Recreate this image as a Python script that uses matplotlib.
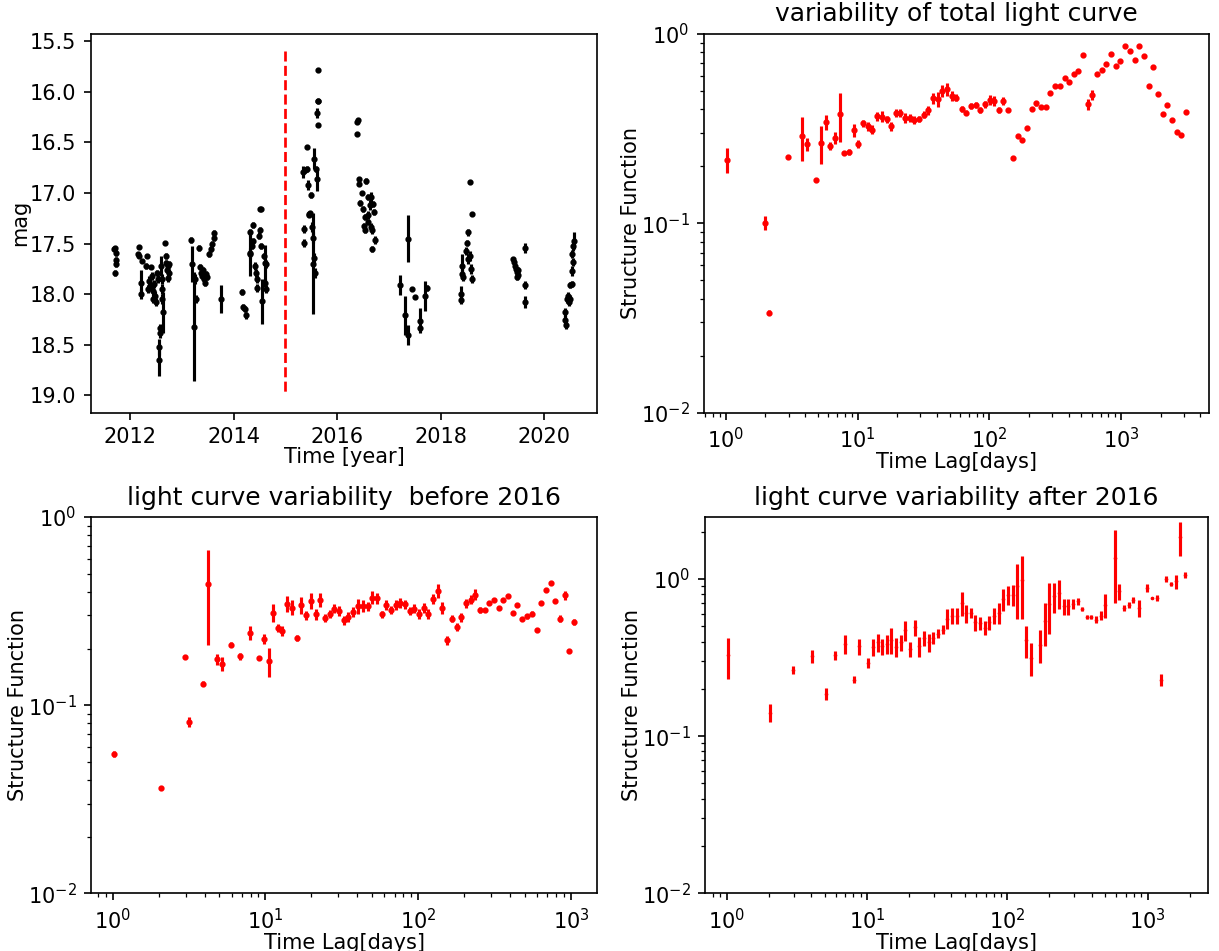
import numpy as np
import matplotlib
matplotlib.use("Agg")
import matplotlib.pyplot as plt

# ---------------- light curve (mag vs. time) ----------------
lc_year = [
    2011.69, 2011.71, 2011.73, 2011.72, 2011.73, 2011.71,
    2012.16, 2012.18, 2012.18, 2012.23, 2012.21, 2012.21, 2012.31, 2012.33, 2012.35, 2012.37,
    2012.39, 2012.41, 2012.42, 2012.44, 2012.45, 2012.47, 2012.48, 2012.50, 2012.52, 2012.54,
    2012.55, 2012.56, 2012.57, 2012.58, 2012.60, 2012.61, 2012.62, 2012.62, 2012.63, 2012.68,
    2012.69, 2012.70, 2012.72, 2012.74, 2012.75, 2012.73, 2012.76,
    2013.18, 2013.19, 2013.24, 2013.26, 2013.27, 2013.33, 2013.35, 2013.37, 2013.39, 2013.41,
    2013.43, 2013.45, 2013.47, 2013.49, 2013.53, 2013.56, 2013.59, 2013.62, 2013.63, 2013.75,
    2014.16, 2014.18, 2014.21, 2014.23, 2014.31, 2014.32, 2014.31, 2014.35, 2014.37, 2014.38,
    2014.41, 2014.43, 2014.45, 2014.45, 2014.48, 2014.50, 2014.52, 2014.51, 2014.53, 2014.55,
    2014.58, 2014.60, 2014.61, 2014.62, 2014.63,
    2015.33, 2015.35, 2015.36, 2015.38, 2015.41, 2015.42, 2015.44, 2015.45, 2015.46, 2015.48,
    2015.50, 2015.52, 2015.53, 2015.54, 2015.55, 2015.56, 2015.57, 2015.58, 2015.60, 2015.61,
    2015.62, 2015.62, 2015.63, 2015.63,
    2016.39, 2016.40, 2016.39, 2016.42, 2016.42, 2016.56, 2016.47, 2016.44, 2016.50, 2016.60,
    2016.65, 2016.63, 2016.69, 2016.70, 2016.53, 2016.59, 2016.60, 2016.52, 2016.53, 2016.66,
    2016.68, 2016.72, 2016.68,
    2017.21, 2017.36, 2017.31, 2017.37, 2017.44, 2017.51, 2017.60, 2017.60, 2017.69, 2017.73,
    2018.38, 2018.39, 2018.40, 2018.41, 2018.42, 2018.50, 2018.49, 2018.53, 2018.53, 2018.57,
    2018.58, 2018.60, 2018.56, 2018.61,
    2019.40, 2019.42, 2019.44, 2019.45, 2019.47, 2019.49, 2019.46, 2019.48, 2019.62, 2019.62,
    2019.62,
    2020.39, 2020.40, 2020.42, 2020.43, 2020.45, 2020.47, 2020.49, 2020.50, 2020.53, 2020.53,
    2020.55, 2020.57, 2020.56, 2020.54,
]
lc_mag = [
    17.55, 17.54, 17.59, 17.66, 17.70, 17.79,
    17.60, 17.53, 17.62, 17.67, 17.89, 18.00, 17.72, 17.62, 17.95, 17.87,
    17.92, 17.73, 17.82, 17.97, 18.05, 17.90, 18.02, 18.08, 17.79, 17.85,
    18.52, 18.65, 18.33, 18.38, 17.72, 17.85, 17.95, 18.05, 18.18, 17.49,
    17.62, 17.69, 17.76, 17.72, 17.79, 17.84, 17.70,
    17.46, 17.70, 18.32, 17.85, 18.05, 17.54, 17.73, 17.79, 17.82, 17.76,
    17.85, 17.89, 17.80, 17.83, 17.60, 17.55, 17.50, 17.44, 17.40, 18.05,
    17.98, 18.13, 18.15, 18.21, 17.39, 17.59, 17.60, 17.52, 17.32, 17.47,
    17.72, 17.79, 17.85, 17.94, 17.42, 17.16, 17.16, 17.37, 17.52, 18.07,
    17.62, 17.69, 17.89, 17.95, 17.70,
    16.79, 17.36, 17.49, 16.77, 16.76, 16.55, 16.92, 17.21, 17.22, 17.20,
    17.02, 17.34, 17.70, 17.44, 16.66, 17.64, 17.79, 16.76, 16.86, 16.21,
    15.79, 16.09, 16.09, 16.33,
    16.30, 16.28, 16.42, 16.86, 16.91, 16.88, 17.00, 17.10, 17.16, 17.04,
    17.04, 17.12, 17.11, 17.19, 17.24, 17.22, 17.29, 17.33, 17.37, 17.34,
    17.37, 17.46, 17.55,
    17.91, 17.45, 18.21, 18.40, 17.95, 18.03, 18.26, 18.33, 18.02, 17.94,
    18.00, 18.06, 17.72, 17.80, 17.83, 17.49, 17.57, 17.39, 17.65, 17.62,
    17.75, 17.85, 16.89, 17.21,
    17.65, 17.68, 17.72, 17.75, 17.78, 17.81, 17.83, 17.76, 17.54, 17.91,
    18.08,
    18.18, 18.25, 18.30, 18.05, 18.02, 18.08, 18.05, 17.91, 17.90, 17.77,
    17.68, 17.47, 17.52, 17.60,
]
lc_err = [
    0.02, 0.02, 0.03, 0.03, 0.03, 0.03,
    0.02, 0.02, 0.02, 0.02, 0.13, 0.05, 0.03, 0.02, 0.04, 0.05,
    0.04, 0.02, 0.04, 0.05, 0.04, 0.04, 0.05, 0.04, 0.03, 0.04,
    0.08, 0.16, 0.04, 0.05, 0.10, 0.05, 0.05, 0.05, 0.20, 0.02,
    0.03, 0.03, 0.03, 0.03, 0.04, 0.04, 0.03,
    0.03, 0.18, 0.54, 0.05, 0.04, 0.03, 0.03, 0.03, 0.03, 0.03,
    0.04, 0.03, 0.03, 0.03, 0.03, 0.03, 0.03, 0.03, 0.03, 0.14,
    0.03, 0.03, 0.03, 0.03, 0.03, 0.05, 0.22, 0.03, 0.03, 0.03,
    0.04, 0.04, 0.04, 0.04, 0.03, 0.02, 0.02, 0.03, 0.03, 0.22,
    0.03, 0.18, 0.04, 0.04, 0.04,
    0.06, 0.04, 0.04, 0.03, 0.03, 0.02, 0.05, 0.02, 0.02, 0.02,
    0.03, 0.05, 0.50, 0.05, 0.10, 0.05, 0.05, 0.03, 0.12, 0.05,
    0.02, 0.02, 0.02, 0.02,
    0.02, 0.02, 0.02, 0.02, 0.02, 0.03, 0.02, 0.03, 0.03, 0.03,
    0.05, 0.05, 0.03, 0.03, 0.03, 0.04, 0.03, 0.03, 0.03, 0.04,
    0.04, 0.04, 0.03,
    0.10, 0.23, 0.19, 0.10, 0.02, 0.02, 0.12, 0.03, 0.15, 0.03,
    0.08, 0.04, 0.12, 0.05, 0.04, 0.03, 0.04, 0.03, 0.05, 0.05,
    0.05, 0.04, 0.02, 0.02,
    0.02, 0.02, 0.02, 0.03, 0.03, 0.03, 0.03, 0.03, 0.05, 0.04,
    0.06,
    0.04, 0.04, 0.04, 0.04, 0.04, 0.04, 0.04, 0.03, 0.03, 0.05,
    0.04, 0.08, 0.05, 0.04,
]
split_year = 2015.0
split_mag_range = (15.6, 19.0)

# ---------------- structure function: whole light curve ----------------
sf_all_lag = [
    1.02, 1.97, 2.13, 2.96, 3.8, 4.1, 4.85, 5.27, 5.71, 6.2, 6.73, 7.3, 7.91, 8.59, 9.32,
    10.1, 10.96, 11.9, 12.9, 14.0, 15.2, 16.6, 17.9, 19.5, 21.1, 22.9, 24.9, 27.0, 29.3,
    31.8, 34.5, 37.4, 40.6, 44.0, 47.8, 51.8, 56.3, 61.5, 66.8, 72.4, 78.7, 85.3, 92.6,
    100.5, 109, 118, 128, 139, 151, 164, 178, 193, 210, 228, 247, 268, 291, 316, 342,
    372, 403, 437, 474, 515, 558, 606, 658, 713, 774, 840, 912, 989, 1072, 1164, 1267,
    1374, 1492, 1619, 1757, 1905, 2070, 2245, 2437, 2642, 2870, 3112,
]
sf_all_val = [
    0.217, 0.101, 0.0338, 0.223, 0.289, 0.261, 0.169, 0.266, 0.343, 0.256, 0.283, 0.38,
    0.236, 0.239, 0.31, 0.263, 0.337, 0.326, 0.313, 0.369, 0.366, 0.354, 0.326, 0.384,
    0.384, 0.361, 0.361, 0.351, 0.357, 0.375, 0.395, 0.457, 0.452, 0.5, 0.51, 0.471,
    0.461, 0.403, 0.384, 0.417, 0.42, 0.397, 0.425, 0.449, 0.443, 0.397, 0.443, 0.396,
    0.222, 0.29, 0.277, 0.317, 0.403, 0.431, 0.41, 0.41, 0.49, 0.532, 0.532, 0.589,
    0.558, 0.618, 0.637, 0.774, 0.425, 0.477, 0.618, 0.647, 0.693, 0.783, 0.674, 0.722,
    0.867, 0.817, 0.725, 0.867, 0.762, 0.532, 0.672, 0.481, 0.376, 0.42, 0.351, 0.303,
    0.294, 0.388,
]
sf_all_err = [
    0.033, 0.009, 0.001, 0.005, 0.075, 0.02, 0.002, 0.06, 0.03, 0.012, 0.02, 0.11,
    0.005, 0.008, 0.025, 0.012, 0.015, 0.018, 0.018, 0.02, 0.025, 0.015, 0.018, 0.02,
    0.02, 0.022, 0.018, 0.018, 0.012, 0.015, 0.02, 0.03, 0.04, 0.035, 0.04, 0.03,
    0.02, 0.015, 0.012, 0.015, 0.015, 0.015, 0.02, 0.025, 0.025, 0.015, 0.02, 0.004,
    0.003, 0.004, 0.004, 0.004, 0.008, 0.012, 0.006, 0.006, 0.005, 0.006, 0.006, 0.005,
    0.005, 0.006, 0.006, 0.006, 0.03, 0.03, 0.005, 0.005, 0.006, 0.006, 0.008, 0.01,
    0.006, 0.006, 0.006, 0.006, 0.006, 0.005, 0.015, 0.005, 0.004, 0.005, 0.004, 0.004,
    0.004, 0.005,
]

# ---------------- structure function: before 2016 ----------------
sf_pre_lag = [
    1.02, 2.06, 2.96, 3.16, 3.9, 4.19, 4.82, 5.17, 5.96, 6.86, 7.89, 9.08, 9.75, 10.5,
    11.2, 12.0, 12.9, 13.9, 15.0, 16.0, 17.2, 18.5, 19.8, 21.3, 22.8, 24.5, 26.3, 28.2,
    30.3, 32.5, 34.8, 37.6, 40.4, 43.3, 46.6, 50.0, 53.7, 57.6, 61.8, 66.3, 71.2, 76.4,
    81.9, 87.9, 94.3, 101, 109, 116, 125, 134, 144, 155, 166, 178, 191, 205, 220, 236,
    253, 272, 292, 314, 337, 361, 388, 416, 446, 479, 514, 552, 594, 638, 684, 734, 787,
    845, 907, 973, 1045,
]
sf_pre_val = [
    0.0553, 0.0364, 0.181, 0.0817, 0.13, 0.439, 0.175, 0.166, 0.21, 0.182, 0.243, 0.178,
    0.225, 0.171, 0.31, 0.258, 0.248, 0.346, 0.33, 0.228, 0.34, 0.3, 0.358, 0.305, 0.364,
    0.29, 0.305, 0.326, 0.316, 0.283, 0.295, 0.313, 0.335, 0.336, 0.335, 0.373, 0.369,
    0.304, 0.34, 0.322, 0.34, 0.349, 0.343, 0.316, 0.326, 0.306, 0.33, 0.305, 0.368,
    0.405, 0.33, 0.221, 0.288, 0.26, 0.293, 0.347, 0.364, 0.387, 0.322, 0.32, 0.347,
    0.361, 0.328, 0.361, 0.382, 0.309, 0.34, 0.288, 0.296, 0.306, 0.252, 0.347, 0.408,
    0.446, 0.358, 0.288, 0.384, 0.195, 0.276,
]
sf_pre_err = [
    0.002, 0.0005, 0.004, 0.005, 0.004, 0.23, 0.012, 0.014, 0.006, 0.008, 0.02, 0.005,
    0.014, 0.03, 0.035, 0.012, 0.014, 0.035, 0.03, 0.008, 0.035, 0.018, 0.035, 0.02,
    0.03, 0.014, 0.016, 0.018, 0.02, 0.016, 0.018, 0.02, 0.03, 0.025, 0.02, 0.03, 0.025,
    0.014, 0.02, 0.016, 0.02, 0.02, 0.018, 0.016, 0.018, 0.02, 0.02, 0.018, 0.022, 0.035,
    0.025, 0.012, 0.012, 0.012, 0.015, 0.02, 0.02, 0.025, 0.012, 0.008, 0.006, 0.007,
    0.006, 0.007, 0.007, 0.006, 0.007, 0.006, 0.008, 0.01, 0.005, 0.006, 0.006, 0.006,
    0.006, 0.012, 0.02, 0.004, 0.01,
]

# ---------------- structure function: after 2016 ----------------
sf_post_lag = [
    1.02, 2.04, 2.99, 4.07, 5.12, 5.96, 6.95, 8.13, 8.73, 10.2, 11.0, 11.9, 12.8, 13.8,
    14.9, 16.1, 17.4, 18.8, 20.3, 21.9, 23.6, 25.5, 27.5, 29.7, 32.0, 34.6, 37.3, 40.4,
    43.6, 47.2, 50.9, 55.0, 59.3, 64.0, 69.0, 74.5, 80.4, 86.7, 93.6, 101, 109, 117.6,
    127, 137, 148, 172, 186, 200, 216, 233, 252, 272, 294, 317, 342, 369, 398, 430, 464,
    501, 583, 630, 680, 733, 791, 863, 994, 1073, 1159, 1251, 1349, 1463, 1588, 1714, 1853,
]
sf_post_val = [
    0.327, 0.141, 0.265, 0.322, 0.186, 0.327, 0.386, 0.229, 0.373, 0.292, 0.37, 0.395,
    0.373, 0.386, 0.411, 0.37, 0.395, 0.471, 0.359, 0.492, 0.373, 0.422, 0.395, 0.422,
    0.449, 0.476, 0.56, 0.585, 0.585, 0.703, 0.608, 0.612, 0.53, 0.526, 0.488, 0.53,
    0.585, 0.61, 0.746, 0.795, 0.79, 0.897, 0.98, 0.407, 0.315, 0.382, 0.537, 0.697,
    0.775, 0.815, 0.67, 0.67, 0.697, 0.721, 0.645, 0.573, 0.573, 0.551, 0.585, 0.687,
    1.37, 0.834, 0.654, 0.687, 0.738, 0.654, 0.877, 0.757, 0.757, 0.229, 1.0, 0.933,
    0.966, 1.85, 1.065,
]
sf_post_err = [
    0.095, 0.018, 0.015, 0.03, 0.015, 0.02, 0.055, 0.012, 0.045, 0.022, 0.045, 0.05,
    0.045, 0.055, 0.08, 0.05, 0.045, 0.07, 0.04, 0.06, 0.055, 0.045, 0.05, 0.035, 0.03,
    0.03, 0.08, 0.07, 0.065, 0.12, 0.08, 0.045, 0.06, 0.05, 0.05, 0.055, 0.065, 0.09,
    0.12, 0.11, 0.12, 0.34, 0.42, 0.095, 0.075, 0.09, 0.165, 0.25, 0.17, 0.17, 0.08,
    0.08, 0.05, 0.035, 0.02, 0.02, 0.02, 0.03, 0.04, 0.12, 0.67, 0.1, 0.025, 0.03, 0.03,
    0.08, 0.05, 0.015, 0.03, 0.02, 0.05, 0.03, 0.1, 0.45, 0.05,
]

W, H, DPI = 1219, 951, 150
fig = plt.figure(figsize=(W / DPI, H / DPI), dpi=DPI)


def px_axes(left, top, right, bottom):
    return fig.add_axes([left / W, 1 - bottom / H, (right - left) / W, (bottom - top) / H])


ax_lc = px_axes(91, 34, 597, 412.7)
ax_all = px_axes(704, 34, 1209, 412.7)
ax_pre = px_axes(91, 517, 597, 893.3)
ax_post = px_axes(705, 517, 1208, 893.3)

# light curve
ax_lc.errorbar(lc_year, lc_mag, yerr=lc_err, fmt='k.', markersize=4)
ax_lc.vlines(split_year, *split_mag_range, colors='r', linestyles='dashed', linewidth=1.3)
ax_lc.invert_yaxis()
ax_lc.set_xlabel('Time [year]', labelpad=0)
ax_lc.set_ylabel('mag', labelpad=0)


def sf_panel(ax, lag, val, err, title, top=1.0, msize=4):
    ax.errorbar(lag, val, yerr=err, fmt='r.', markersize=msize)
    ax.set_xscale('log')
    ax.set_yscale('log')
    ax.set_ylim(1e-2, top)
    ax.set_title(title)
    ax.set_xlabel('Time Lag[days]', labelpad=0)
    ax.set_ylabel('Structure Function', labelpad=0)


sf_panel(ax_all, sf_all_lag, sf_all_val, sf_all_err, 'variability of total light curve')
sf_panel(ax_pre, sf_pre_lag, sf_pre_val, sf_pre_err, 'light curve variability  before 2016')
sf_panel(ax_post, sf_post_lag, sf_post_val, sf_post_err, 'light curve variability after 2016',
         top=2.48, msize=1.5)

fig.savefig('out.png', dpi=DPI)
